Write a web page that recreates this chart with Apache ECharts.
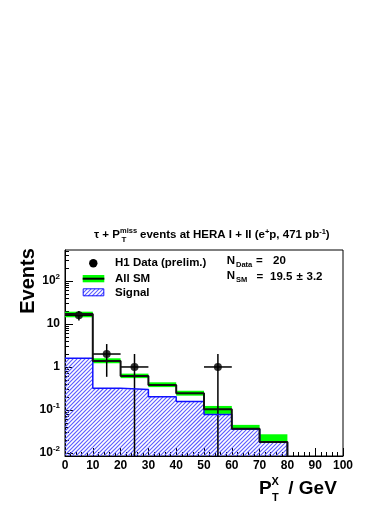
<!DOCTYPE html>
<html><head><meta charset="utf-8">
<script src="https://cdn.jsdelivr.net/npm/echarts@6/dist/echarts.min.js"></script>
<style>html,body{margin:0;padding:0;background:#fff}#c{width:390px;height:505px}</style>
</head><body><div id="c"></div>
<script>
// ---- data ----
const binLo = [0, 10, 20, 30, 40, 50, 60, 70, 80, 90];
const binWidth = 10;
const smValues   = [17.0, 1.38, 0.62, 0.38, 0.244, 0.104, 0.0365, 0.018, 0, 0];
const smBandLo   = [14.3, 1.22, 0.55, 0.34, 0.215, 0.081, 0.0365, 0.018, 0, 0];
const smBandHi   = [19.3, 1.59, 0.70, 0.44, 0.280, 0.124, 0.045, 0.0272, 0, 0];
const signalValues = [1.6, 0.32, 0.30, 0.204, 0.158, 0.078, 0.0355, 0.0178, 0, 0];
const dataX   = [5, 15, 25, 55];
const dataY   = [16, 2, 1, 1];
const dataErr = [4, 1.41, 1, 1];
const xTickLabels = [0, 10, 20, 30, 40, 50, 60, 70, 80, 90, 100];
const yMajorTicks = [0.01, 0.1, 1, 10, 100];
const yMinorTicks = [];
[0.01, 0.1, 1, 10, 100].forEach(d => { for (let k = 2; k <= 9; k++) yMinorTicks.push(+(k * d).toPrecision(3)); });
const yMin = 0.0085, yMax = 525;

const FONT = '"Liberation Sans", Arial, Helvetica, sans-serif';
const BF = s => 'bold ' + s + 'px ' + FONT;
const HATCH_COLOR = '#5c5cff';
const GREEN = '#00ff00';

// diagonal "/" hatch lines clipped to a pixel rectangle
function hatchLines(x0, y0, x1, y1, step) {
  const out = [];
  const cStart = Math.ceil((x0 + y0) / step) * step;
  for (let c = cStart; c <= x1 + y1; c += step) {
    const xa = Math.max(x0, c - y1), xb = Math.min(x1, c - y0);
    if (xb > xa) out.push({ type: 'line', silent: true, shape: { x1: xa, y1: c - xa, x2: xb, y2: c - xb }, style: { stroke: HATCH_COLOR, lineWidth: 1.1 } });
  }
  return out;
}

function stepData(vals) {
  const pts = [];
  let last = -1;
  vals.forEach((v, i) => { if (v > 0) { pts.push([binLo[i], v]); last = i; } });
  pts.push([binLo[last] + binWidth, vals[last]]);
  pts.push([binLo[last] + binWidth, yMin]);
  return pts;
}
function rectBins(lo, hi) {
  const d = [];
  binLo.forEach((x, i) => { if (hi[i] > 0) d.push([x, x + binWidth, lo ? lo[i] : yMin, hi[i]]); });
  return d;
}

const chart = echarts.init(document.getElementById('c'), null, { renderer: 'canvas' });
const option = {
  animation: false,
  backgroundColor: '#fff',
  grid: { left: 65, right: 47, top: 250, bottom: 49, show: true, borderColor: '#000', borderWidth: 1, backgroundColor: 'transparent' },
  xAxis: {
    type: 'value', min: 0, max: 100, interval: 10,
    axisLine: { show: true, onZero: false, lineStyle: { color: '#000', width: 1 } },
    axisTick: { show: true, inside: true, length: 8, lineStyle: { color: '#000' } },
    minorTick: { show: true, splitNumber: 5, length: 4, lineStyle: { color: '#000' } },
    axisLabel: { color: '#000', fontWeight: 'bold', fontSize: 12, fontFamily: FONT, margin: 4, formatter: v => String(v) },
    splitLine: { show: false }, minorSplitLine: { show: false }
  },
  yAxis: [{
    type: 'log', logBase: 10, min: yMin, max: yMax, position: 'left',
    axisLine: { show: true, lineStyle: { color: '#000', width: 1 } },
    axisTick: { show: true, inside: true, length: 8, customValues: yMajorTicks, lineStyle: { color: '#000' } },
    axisLabel: {
      customValues: yMajorTicks, color: '#000', margin: 5, fontFamily: FONT,
      formatter: v => { const e = Math.round(Math.log10(v)); if (e === 0) return '{b|1}'; if (e === 1) return '{b|10}'; return '{b|10}{s|' + (e < 0 ? '-' + (-e) : e) + '}'; },
      rich: {
        b: { fontWeight: 'bold', fontSize: 12, fontFamily: FONT, color: '#000', lineHeight: 14 },
        s: { fontWeight: 'bold', fontSize: 8, fontFamily: FONT, color: '#000', padding: [0, 0, 8, 0] }
      }
    },
    splitLine: { show: false }
  }, {
    type: 'log', logBase: 10, min: yMin, max: yMax, position: 'left', offset: 0,
    axisLine: { show: false },
    axisTick: { show: true, inside: true, length: 4, customValues: yMinorTicks, lineStyle: { color: '#000' } },
    axisLabel: { show: false }, splitLine: { show: false }
  }],
  series: [
    { // signal hatched area
      type: 'custom', name: 'Signal area', coordinateSystem: 'cartesian2d', xAxisIndex: 0, yAxisIndex: 0,
      data: rectBins(null, signalValues), clip: true,
      renderItem: (params, api) => {
        const p0 = api.coord([api.value(0), api.value(2)]);
        const p1 = api.coord([api.value(1), api.value(3)]);
        return { type: 'group', children: hatchLines(p0[0], p1[1], p1[0], p0[1], 4) };
      }
    },
    { // SM uncertainty band
      type: 'custom', name: 'SM band', coordinateSystem: 'cartesian2d',
      data: rectBins(smBandLo, smBandHi), clip: true,
      renderItem: (params, api) => {
        const p0 = api.coord([api.value(0), api.value(2)]);
        const p1 = api.coord([api.value(1), api.value(3)]);
        return { type: 'rect', shape: { x: p0[0], y: p1[1], width: p1[0] - p0[0], height: Math.max(p0[1] - p1[1], 0) }, style: { fill: GREEN, stroke: null } };
      }
    },
    { // signal outline
      type: 'line', name: 'Signal', step: 'end', data: stepData(signalValues), showSymbol: false, symbol: 'none',
      lineStyle: { color: '#1010ff', width: 1.5 }, clip: true
    },
    { // SM line
      type: 'line', name: 'All SM', step: 'end', data: stepData(smValues), showSymbol: false, symbol: 'none',
      lineStyle: { color: '#111', width: 2 }, clip: true
    },
    { // data error bars
      type: 'custom', name: 'errors', coordinateSystem: 'cartesian2d', clip: true,
      data: dataX.map((x, i) => [x, dataY[i], Math.max(dataY[i] - dataErr[i], yMin), dataY[i] + dataErr[i], x - binWidth / 2, x + binWidth / 2]),
      renderItem: (params, api) => {
        const c = api.coord([api.value(0), api.value(1)]);
        const lo = api.coord([api.value(0), api.value(2)]);
        const hi = api.coord([api.value(0), api.value(3)]);
        const l = api.coord([api.value(4), api.value(1)]);
        const r = api.coord([api.value(5), api.value(1)]);
        const st = { stroke: '#000', lineWidth: 1.5 };
        return { type: 'group', children: [
          { type: 'line', shape: { x1: c[0], y1: lo[1], x2: c[0], y2: hi[1] }, style: st },
          { type: 'line', shape: { x1: l[0], y1: c[1], x2: r[0], y2: c[1] }, style: st }
        ] };
      }
    },
    { // data points
      type: 'scatter', name: 'H1 Data', data: dataX.map((x, i) => [x, dataY[i]]),
      symbol: 'circle', symbolSize: 8, itemStyle: { color: '#000' }
    }
  ],
  graphic: [
    // title
    { type: 'text', x: 94, y: 235, style: { text: 'τ + P', font: BF(11.5), fill: '#000', textVerticalAlign: 'middle' } },
    { type: 'text', x: 120, y: 230.5, style: { text: 'miss', font: BF(7.5), fill: '#000', textVerticalAlign: 'middle' } },
    { type: 'text', x: 121.5, y: 240, style: { text: 'T', font: BF(8), fill: '#000', textVerticalAlign: 'middle' } },
    { type: 'text', x: 140, y: 235, style: {
        text: '{m|events at HERA I + II (e}{s|+}{m|p, 471 pb}{s|-1}{m|)}', textVerticalAlign: 'middle',
        rich: { m: { font: BF(11.5), fill: '#000', lineHeight: 14 }, s: { font: BF(7.5), fill: '#000', padding: [0, 0, 7, 0] } } } },
    // legend
    { type: 'circle', shape: { cx: 93.3, cy: 263.3, r: 4.2 }, style: { fill: '#000' } },
    { type: 'rect', shape: { x: 82.7, y: 275, width: 21.6, height: 7.3 }, style: { fill: GREEN } },
    { type: 'line', shape: { x1: 82.7, y1: 278.7, x2: 104.3, y2: 278.7 }, style: { stroke: '#000', lineWidth: 2 } },
    { type: 'group', children: hatchLines(83.2, 288.8, 103.8, 295.8, 4) },
    { type: 'rect', shape: { x: 83.2, y: 288.8, width: 20.6, height: 7 }, style: { fill: null, stroke: '#1010ff', lineWidth: 1 } },
    { type: 'text', x: 115, y: 263.3, style: { text: 'H1 Data (prelim.)', font: BF(11.5), fill: '#000', textVerticalAlign: 'middle' } },
    { type: 'text', x: 115, y: 279, style: { text: 'All SM', font: BF(11.5), fill: '#000', textVerticalAlign: 'middle' } },
    { type: 'text', x: 115, y: 292.5, style: { text: 'Signal', font: BF(11.5), fill: '#000', textVerticalAlign: 'middle' } },
    // N texts
    { type: 'text', x: 226.7, y: 261, style: { text: 'N', font: BF(11.5), fill: '#000', textVerticalAlign: 'middle' } },
    { type: 'text', x: 236, y: 264.5, style: { text: 'Data', font: BF(7.5), fill: '#000', textVerticalAlign: 'middle' } },
    { type: 'text', x: 256, y: 261, style: { text: '=', font: BF(11.5), fill: '#000', textVerticalAlign: 'middle' } },
    { type: 'text', x: 273, y: 261, style: { text: '20', font: BF(11.5), fill: '#000', textVerticalAlign: 'middle' } },
    { type: 'text', x: 226.7, y: 276, style: { text: 'N', font: BF(11.5), fill: '#000', textVerticalAlign: 'middle' } },
    { type: 'text', x: 236, y: 280, style: { text: 'SM', font: BF(7.5), fill: '#000', textVerticalAlign: 'middle' } },
    { type: 'text', x: 256.5, y: 276.5, style: { text: '=', font: BF(11.5), fill: '#000', textVerticalAlign: 'middle' } },
    { type: 'text', x: 270, y: 276.5, style: { text: '19.5', font: BF(11.5), fill: '#000', textVerticalAlign: 'middle' } },
    { type: 'text', x: 296.5, y: 276.5, style: { text: '±', font: BF(11.5), fill: '#000', textVerticalAlign: 'middle' } },
    { type: 'text', x: 306.5, y: 276.5, style: { text: '3.2', font: BF(11.5), fill: '#000', textVerticalAlign: 'middle' } },
    // axis titles
    { type: 'text', x: 28, y: 281, rotation: Math.PI / 2, style: { text: 'Events', font: BF(20), fill: '#000', textAlign: 'center', textVerticalAlign: 'middle' } },
    { type: 'text', x: 259, y: 488.5, style: { text: 'P', font: BF(19), fill: '#000', textVerticalAlign: 'middle' } },
    { type: 'text', x: 271.5, y: 481.5, style: { text: 'X', font: BF(11), fill: '#000', textVerticalAlign: 'middle' } },
    { type: 'text', x: 272, y: 497.5, style: { text: 'T', font: BF(11), fill: '#000', textVerticalAlign: 'middle' } },
    { type: 'text', x: 283, y: 488.5, style: { text: ' / GeV', font: BF(19), fill: '#000', textVerticalAlign: 'middle' } }
  ]
};
chart.setOption(option);
</script></body></html>
